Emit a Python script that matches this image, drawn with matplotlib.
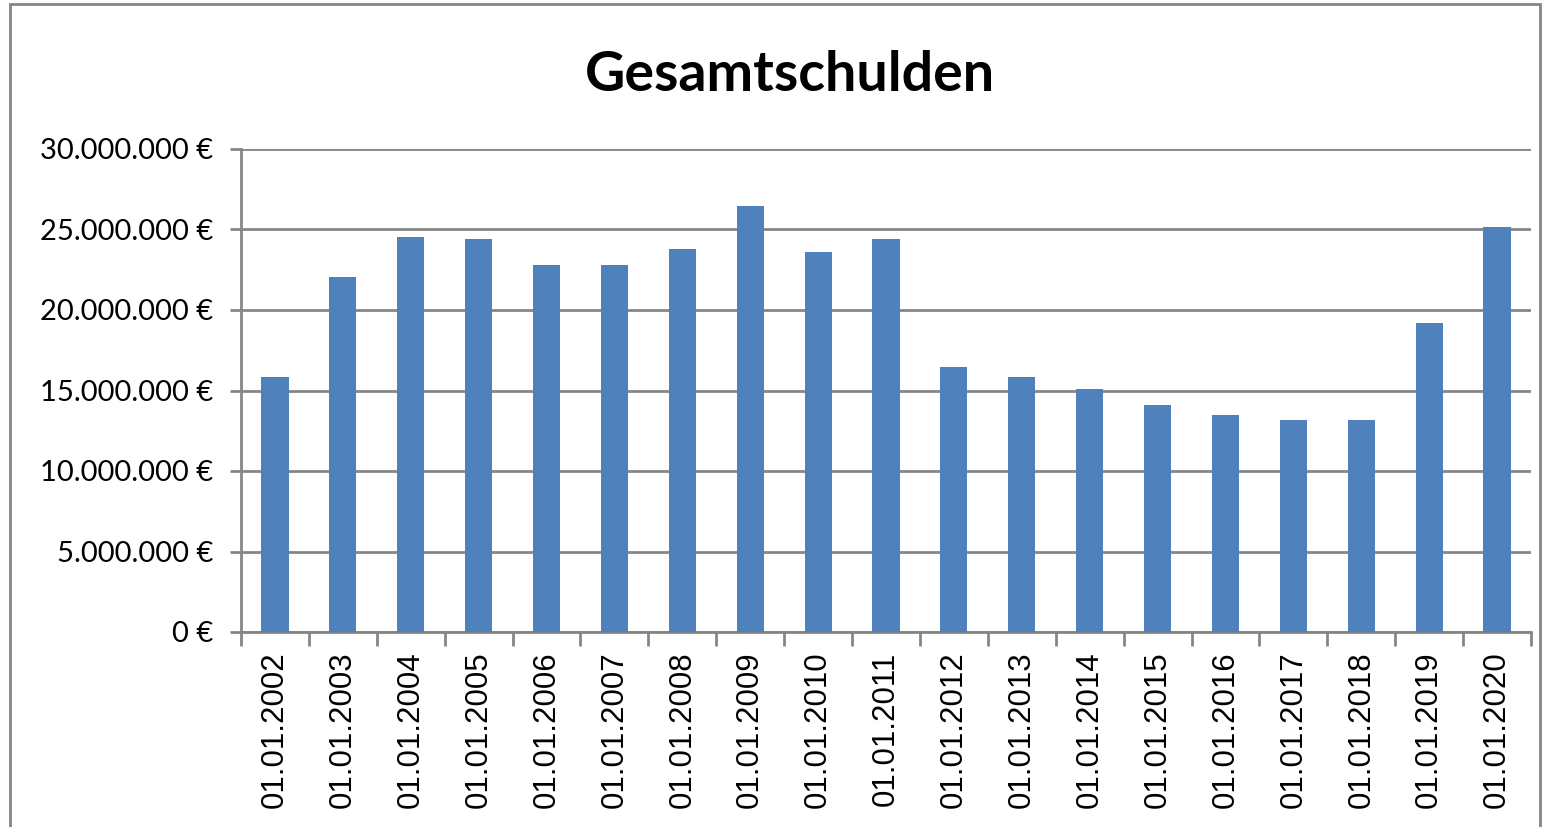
import matplotlib.pyplot as plt
from matplotlib.patches import Rectangle
from matplotlib.ticker import FuncFormatter, MultipleLocator
import numpy as np

# Werte (in Euro)
stichtage = ['01.01.2002', '01.01.2003', '01.01.2004', '01.01.2005', '01.01.2006',
             '01.01.2007', '01.01.2008', '01.01.2009', '01.01.2010', '01.01.2011',
             '01.01.2012', '01.01.2013', '01.01.2014', '01.01.2015', '01.01.2016',
             '01.01.2017', '01.01.2018', '01.01.2019', '01.01.2020']
schulden = [15840000, 22050000, 24530000, 24390000, 22810000,
            22810000, 23770000, 26440000, 23600000, 24390000,
            16480000, 15840000, 15070000, 14120000, 13460000,
            13150000, 13150000, 19170000, 25170000]

grau = '#868686'
blau = '#4f81bd'


def euro(wert, pos):
    """Formatiert eine Zahl im deutschen Stil mit Euro-Zeichen."""
    return f"{int(wert):,}".replace(',', '.') + ' €'


fig = plt.figure(figsize=(15.49, 8.27), dpi=100)
ax = fig.add_axes([241 / 1549, 1 - 632 / 827, (1531 - 241) / 1549, (632 - 149) / 827])

x = np.arange(len(stichtage))
ax.bar(x, schulden, width=0.4, color=blau, zorder=3)

ax.set_xlim(-0.5, len(stichtage) - 0.5)
ax.set_ylim(0, 30000000)
ax.yaxis.set_major_locator(MultipleLocator(5000000))
ax.yaxis.set_major_formatter(FuncFormatter(euro))
ax.grid(axis='y', color=grau, linewidth=2, zorder=0)

ax.set_xticks(x)
ax.set_xticklabels(stichtage, rotation=90, fontsize=22.5, family='Liberation Sans')
ax.set_xticks(np.arange(len(stichtage) + 1) - 0.5, minor=True)
ax.tick_params(axis='x', which='major', length=0, pad=14)
ax.tick_params(axis='x', which='minor', length=10, width=2, color=grau)
ax.tick_params(axis='y', length=8, width=2, color=grau, labelsize=21, pad=12)
for lbl in ax.get_yticklabels():
    lbl.set_family('Lato')

for seite in ['top', 'right']:
    ax.spines[seite].set_visible(False)
for seite in ['left', 'bottom']:
    ax.spines[seite].set_color(grau)
    ax.spines[seite].set_linewidth(2)

fig.text(790 / 1549, 1 - 75 / 827, 'Gesamtschulden', ha='center', va='center',
         fontsize=40, fontweight='bold', family='Lato')

# Rahmen um das Diagramm
fig.patches.append(Rectangle((10 / 1549, -0.01), 1530 / 1549, 1 - 4 / 827 + 0.01,
                             transform=fig.transFigure, fill=False,
                             edgecolor=grau, linewidth=2))

fig.savefig('out.png', dpi=100)
